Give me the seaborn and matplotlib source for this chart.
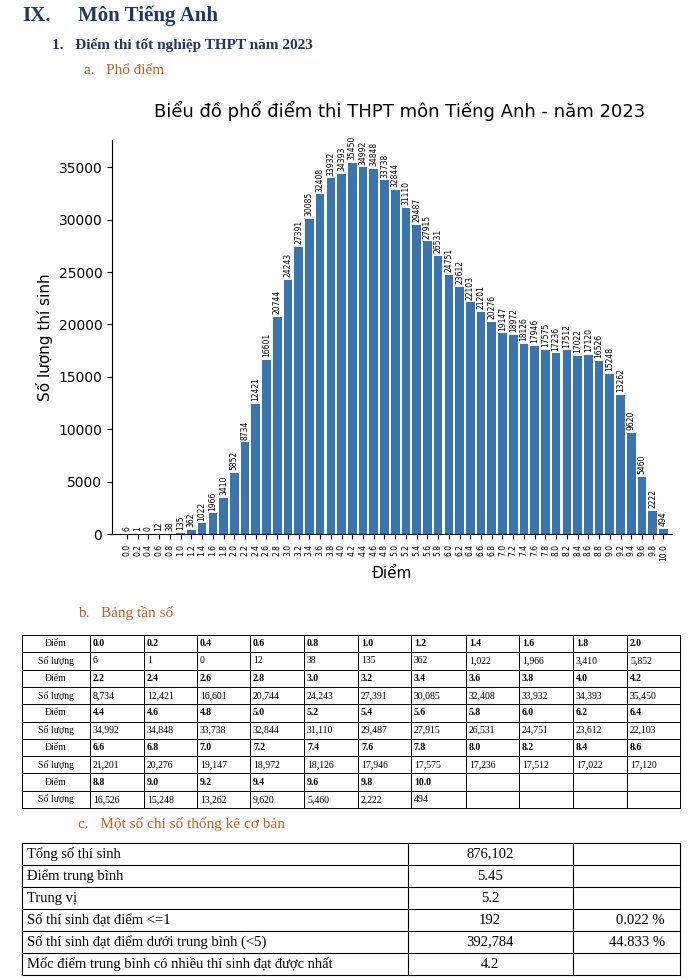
import matplotlib
matplotlib.use("Agg")
import matplotlib.pyplot as plt
import seaborn as sns
import pandas as pd

scores = ["0.0","0.2","0.4","0.6","0.8","1.0","1.2","1.4","1.6","1.8","2.0","2.2","2.4","2.6","2.8","3.0","3.2","3.4","3.6","3.8","4.0","4.2","4.4","4.6","4.8","5.0","5.2","5.4","5.6","5.8","6.0","6.2","6.4","6.6","6.8","7.0","7.2","7.4","7.6","7.8","8.0","8.2","8.4","8.6","8.8","9.0","9.2","9.4","9.6","9.8","10.0"]
counts = [6,1,0,12,38,135,362,1022,1966,3410,5852,8734,12421,16601,20744,24243,27391,30085,32408,33932,34393,35450,34992,34848,33738,32844,31110,29487,27915,26531,24751,23612,22103,21201,20276,19147,18972,18126,17946,17575,17236,17512,17022,17120,16526,15248,13262,9620,5460,2222,494]
stat_labels = ["Tổng số thí sinh","Điểm trung bình","Trung vị","Số thí sinh đạt điểm <=1","Số thí sinh đạt điểm dưới trung bình (<5)","Mốc điểm trung bình có nhiều thí sinh đạt được nhất"]
stat_values = ["876,102","5.45","5.2","192","392,784","4.2"]
stat_pct = ["","","","0.022 %","44.833 %",""]

W, H = 700, 980
fig = plt.figure(figsize=(7, 9.8), dpi=100)
fig.patch.set_facecolor("white")
def fx(x): return x / W
def fy(y): return 1 - y / H
SERIF = ["Liberation Serif", "DejaVu Serif"]
NAVY = "#1F3864"; BROWN = "#C0622A"

fig.text(fx(22), fy(16), "IX.", family=SERIF, fontsize=15, weight="bold", color=NAVY, va="center")
fig.text(fx(78), fy(16), "Môn Tiếng Anh", family=SERIF, fontsize=15, weight="bold", color=NAVY, va="center")
fig.text(fx(52), fy(45), "1.   Điểm thi tốt nghiệp THPT năm 2023", family=SERIF, fontsize=11, weight="bold", color=NAVY, va="center")
fig.text(fx(84), fy(70), "a.   Phổ điểm", family=SERIF, fontsize=11, color=BROWN, va="center")
fig.text(fx(78), fy(613), "b.   Bảng tần số", family=SERIF, fontsize=11, color=BROWN, va="center")
fig.text(fx(78), fy(824), "c.   Một số chỉ số thống kê cơ bản", family=SERIF, fontsize=11, color=BROWN, va="center")

# chart
ax = fig.add_axes([fx(112), fy(534), fx(672) - fx(112), (534 - 140) / H])
df = pd.DataFrame({"Điểm": scores, "n": counts})
sns.barplot(data=df, x="Điểm", y="n", color="#3B75AF", saturation=1, ax=ax, width=0.8)
for c in ax.containers:
    ax.bar_label(c, labels=[str(v) for v in counts], rotation=90, fontsize=5.5, padding=2)
ax.set_ylim(0, 37600)
ax.set_xlim(-1.4, len(scores) - 0.2)
for s in ("top", "right"):
    ax.spines[s].set_visible(False)
ax.set_ylabel("Số lượng thí sinh", fontsize=11)
ax.set_xlabel("Điểm", fontsize=11)
fig.text(fx(400), fy(111), "Biểu đồ phổ điểm thi THPT môn Tiếng Anh - năm 2023", fontsize=13, ha="center", va="center")
ax.tick_params(axis="x", labelrotation=90, labelsize=5.5)
ax.tick_params(axis="y", labelsize=10)

# frequency table
cols = [22, 90, 144, 197, 250, 304, 358, 411, 466, 519, 573, 627, 680]
rtop, rh = 635, 17.3
nrows = 10
for i in range(nrows + 1):
    y = rtop + i * rh
    fig.add_artist(plt.Line2D([fx(22), fx(680)], [fy(y), fy(y)], color="black", lw=0.7))
for x in cols:
    fig.add_artist(plt.Line2D([fx(x), fx(x)], [fy(rtop), fy(rtop + nrows * rh)], color="black", lw=0.7))
for r in range(5):
    chunk_s = scores[r * 11:(r + 1) * 11]
    chunk_c = counts[r * 11:(r + 1) * 11]
    y1 = rtop + (2 * r + 0.5) * rh
    y2 = rtop + (2 * r + 1.5) * rh
    fig.text(fx(56), fy(y1), "Điểm", family=SERIF, fontsize=7, ha="center", va="center")
    fig.text(fx(56), fy(y2), "Số lượng", family=SERIF, fontsize=7, ha="center", va="center")
    for j, (s, c) in enumerate(zip(chunk_s, chunk_c)):
        fig.text(fx(cols[j + 1] + 3), fy(y1), s, family=SERIF, fontsize=7, weight="bold", va="center")
        fig.text(fx(cols[j + 1] + 3), fy(y2), f"{c:,}", family=SERIF, fontsize=7, va="center")

# stats table
s_cols = [22, 408, 573, 680]
s_top, s_rh = 843, 22
for i in range(len(stat_labels) + 1):
    y = s_top + i * s_rh
    fig.add_artist(plt.Line2D([fx(22), fx(680)], [fy(y), fy(y)], color="black", lw=0.8))
for x in s_cols:
    fig.add_artist(plt.Line2D([fx(x), fx(x)], [fy(s_top), fy(s_top + len(stat_labels) * s_rh)], color="black", lw=0.8))
for i, (l, v, p) in enumerate(zip(stat_labels, stat_values, stat_pct)):
    y = s_top + (i + 0.5) * s_rh
    fig.text(fx(27), fy(y), l, family=SERIF, fontsize=10.5, va="center")
    fig.text(fx(490), fy(y), v, family=SERIF, fontsize=10.5, va="center", ha="center")
    if p:
        fig.text(fx(665), fy(y), p, family=SERIF, fontsize=10.5, va="center", ha="right")

fig.savefig("out.png", dpi=100)
